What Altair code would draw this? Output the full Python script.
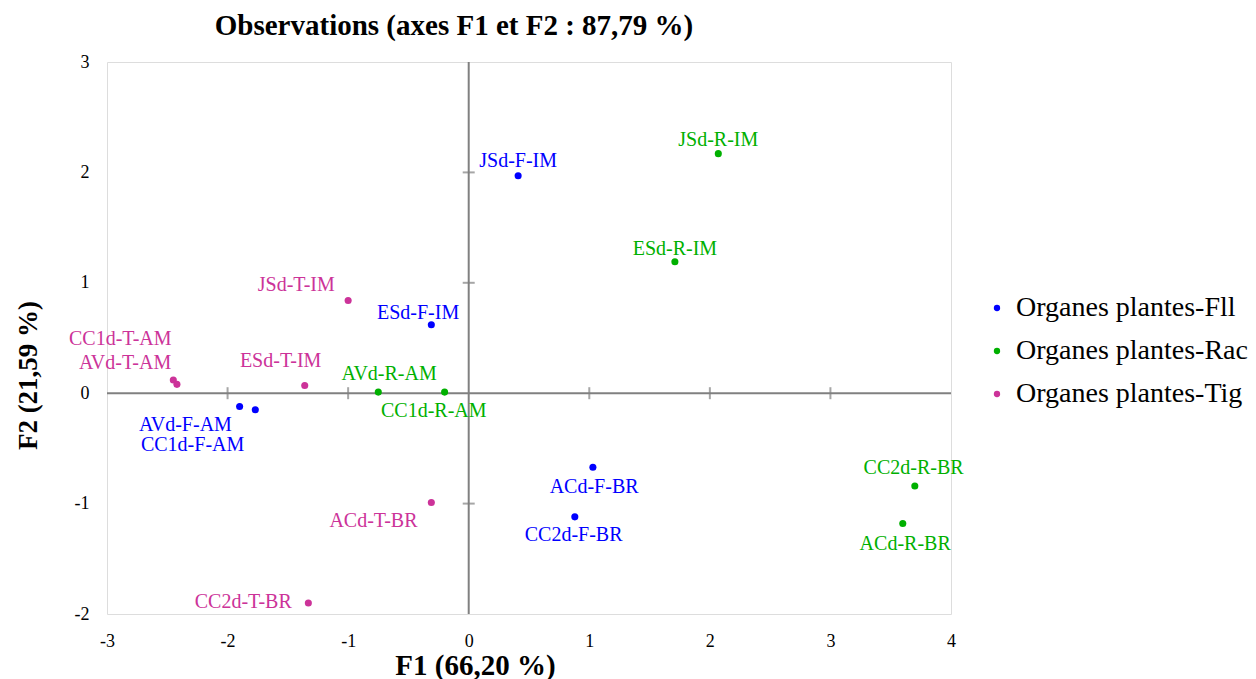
import altair as alt
import pandas as pd

names = ["JSd-F-IM", "ESd-F-IM", "AVd-F-AM", "CC1d-F-AM", "ACd-F-BR", "CC2d-F-BR",
         "JSd-R-IM", "ESd-R-IM", "AVd-R-AM", "CC1d-R-AM", "CC2d-R-BR", "ACd-R-BR",
         "JSd-T-IM", "ESd-T-IM", "CC1d-T-AM", "AVd-T-AM", "ACd-T-BR", "CC2d-T-BR"]
groups = ["Organes plantes-Fll"] * 6 + ["Organes plantes-Rac"] * 6 + ["Organes plantes-Tig"] * 6
f1 = [0.41, -0.31, -1.90, -1.77, 1.03, 0.88,
      2.07, 1.71, -0.75, -0.20, 3.70, 3.60,
      -1.00, -1.36, -2.45, -2.42, -0.31, -1.33]
f2 = [1.97, 0.62, -0.12, -0.15, -0.67, -1.12,
      2.17, 1.19, 0.01, 0.01, -0.84, -1.18,
      0.84, 0.07, 0.12, 0.08, -0.99, -1.90]
# label anchors (data units), as placed in the original chart
label_f1 = [0.41, -0.42, -2.35, -2.29, 1.04, 0.87,
            2.07, 1.71, -0.66, -0.29, 3.69, 3.62,
            -1.43, -1.56, -2.89, -2.85, -0.79, -1.87]
label_f2 = [2.10, 0.73, -0.29, -0.47, -0.85, -1.28,
            2.29, 1.31, 0.17, -0.16, -0.68, -1.37,
            0.98, 0.29, 0.49, 0.27, -1.16, -1.89]

group_names = ["Organes plantes-Fll", "Organes plantes-Rac", "Organes plantes-Tig"]
group_colors = ["#0000FF", "#00B000", "#CC3399"]

x_ticks = [-3, -2, -1, 0, 1, 2, 3, 4]
y_ticks = [-2, -1, 0, 1, 2, 3]
x_inner_ticks = [-2, -1, 1, 2, 3]
y_inner_ticks = [-1, 1, 2]

df = pd.DataFrame({"name": names, "group": groups, "F1": f1, "F2": f2,
                   "LX": label_f1, "LY": label_f2})

FONT = "Liberation Serif"
xs = alt.Scale(domain=[-3, 4], nice=False, zero=False)
ys = alt.Scale(domain=[-2, 3], nice=False, zero=False)
cs = alt.Scale(domain=group_names, range=group_colors)

x_axis = alt.Axis(values=x_ticks, grid=False, ticks=False, domain=False,
                  labelExpr="'' + datum.value", labelFlush=False,
                  labelFont=FONT, labelFontSize=18, labelColor="black", labelPadding=18,
                  titleFont=FONT, titleFontSize=29, titleFontWeight="bold", titleColor="black",
                  titlePadding=1, titleX=368)
y_axis = alt.Axis(values=y_ticks, grid=False, ticks=False, domain=False,
                  labelExpr="'' + datum.value", labelFlush=False,
                  labelFont=FONT, labelFontSize=18, labelColor="black", labelPadding=18,
                  titleFont=FONT, titleFontSize=27, titleFontWeight="bold", titleColor="black",
                  titlePadding=32, titleY=313)

zero_df = pd.DataFrame({"v": [0]})
vline = alt.Chart(zero_df).mark_rule(color="#808080", strokeWidth=2).encode(
    x=alt.X("v:Q", scale=xs, axis=x_axis, title="F1 (66,20 %)"))
hline = alt.Chart(zero_df).mark_rule(color="#808080", strokeWidth=2).encode(
    y=alt.Y("v:Q", scale=ys, axis=y_axis, title="F2 (21,59 %)"))

xt = alt.Chart(pd.DataFrame({"t": x_inner_ticks, "z": [0] * len(x_inner_ticks)})).mark_tick(
    orient="vertical", size=12, thickness=2, color="#808080").encode(
    x=alt.X("t:Q", scale=xs), y=alt.Y("z:Q", scale=ys))
yt = alt.Chart(pd.DataFrame({"t": y_inner_ticks, "z": [0] * len(y_inner_ticks)})).mark_tick(
    orient="horizontal", size=12, thickness=2, color="#808080").encode(
    y=alt.Y("t:Q", scale=ys), x=alt.X("z:Q", scale=xs))

points = alt.Chart(df).mark_circle(size=50, opacity=1).encode(
    x=alt.X("F1:Q", scale=xs),
    y=alt.Y("F2:Q", scale=ys),
    color=alt.Color("group:N", scale=cs, title=None,
                    legend=alt.Legend(orient="none", legendX=876, legendY=232,
                                      labelFont=FONT, labelFontSize=28, labelColor="black",
                                      symbolType="circle", symbolSize=40, symbolStrokeWidth=0,
                                      rowPadding=15, labelOffset=5, labelLimit=400)))

labels = alt.Chart(df).mark_text(font=FONT, fontSize=20, baseline="middle", align="center").encode(
    x=alt.X("LX:Q", scale=xs),
    y=alt.Y("LY:Q", scale=ys),
    text="name:N",
    color=alt.Color("group:N", scale=cs, legend=None))

chart = alt.layer(vline, hline, xt, yt, points, labels).properties(
    width=844, height=552,
    title=alt.TitleParams("Observations (axes F1 et F2 : 87,79 %)", font=FONT, fontSize=29,
                          fontWeight="bold", color="black", anchor="middle", dx=-75, offset=12),
    autosize=alt.AutoSizeParams(type="none"),
    padding={"left": 107, "top": 62, "right": 305, "bottom": 65},
).configure_view(stroke="#888888", strokeWidth=1.5).configure(background="white")

chart.save("out.html", embed_options={"renderer": "svg", "actions": False})
